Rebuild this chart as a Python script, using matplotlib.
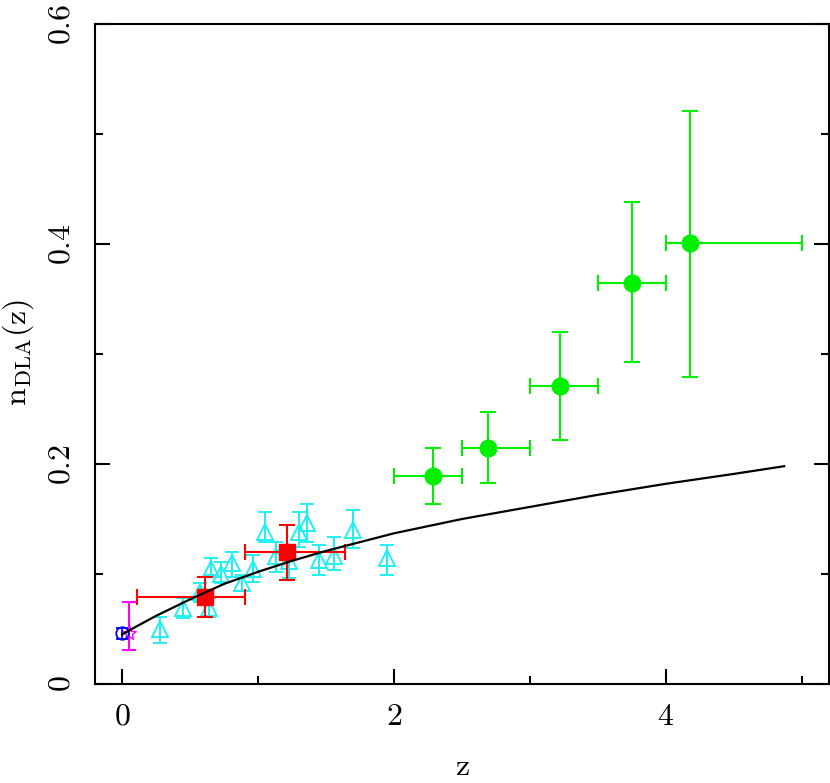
import numpy as np
import matplotlib
matplotlib.use("Agg")
import matplotlib.pyplot as plt

plt.rcParams['mathtext.fontset'] = 'cm'
plt.rcParams['font.family'] = 'serif'

# -------------------- DATA --------------------
# green: high-z DLA surveys
green_z = [2.29, 2.69, 3.22, 3.75, 4.18]
green_n = [0.189, 0.215, 0.271, 0.365, 0.401]
green_zlo = [2.0, 2.5, 3.0, 3.5, 4.0]
green_zhi = [2.5, 3.0, 3.5, 4.0, 5.0]
green_nlo = [0.164, 0.183, 0.222, 0.293, 0.279]
green_nhi = [0.215, 0.247, 0.320, 0.438, 0.521]

# red: low-z binned
red_z = [0.61, 1.21]
red_n = [0.079, 0.120]
red_zlo = [0.11, 0.90]
red_zhi = [0.90, 1.64]
red_nlo = [0.061, 0.095]
red_nhi = [0.097, 0.145]

# cyan: individual low-z estimates
cyan_z = [0.28, 0.45, 0.57, 0.64, 0.65, 0.73, 0.81, 0.88, 0.96,
          1.05, 1.13, 1.23, 1.30, 1.36, 1.45, 1.56, 1.70, 1.95]
cyan_n = [0.050, 0.069, 0.084, 0.069, 0.105, 0.100, 0.110, 0.092, 0.105,
          0.138, 0.116, 0.112, 0.138, 0.146, 0.113, 0.116, 0.140, 0.115]
cyan_nlo = [0.037, 0.060, 0.075, 0.061, 0.099, 0.092, 0.097, 0.085, 0.093,
            0.129, 0.102, 0.096, 0.125, 0.129, 0.099, 0.104, 0.124, 0.099]
cyan_nhi = [0.061, 0.078, 0.092, 0.078, 0.115, 0.111, 0.120, 0.099, 0.117,
            0.156, 0.129, 0.124, 0.156, 0.164, 0.126, 0.134, 0.158, 0.126]

# blue: z=0 point
blue_z = [0.0]
blue_n = [0.046]
blue_err = [0.005]

# magenta: z~0 point
mag_z = [0.05]
mag_n = [0.046]
mag_nlo = [0.031]
mag_nhi = [0.0745]

# black curve
line_z = [0.0, 0.1, 0.25, 0.4, 0.5, 0.75, 1.0, 1.25, 1.5, 1.75, 2.0, 2.5,
          3.0, 3.5, 4.0, 4.5, 4.87]
line_n = [0.045, 0.052, 0.062, 0.071, 0.077, 0.091, 0.102, 0.112, 0.121,
          0.129, 0.137, 0.150, 0.161, 0.172, 0.182, 0.191, 0.198]


def asym(v, lo, hi):
    v = np.array(v); return [v - np.array(lo), np.array(hi) - v]


# -------------------- PLOT --------------------
fig = plt.figure(figsize=(8.30, 7.83), dpi=100)
ax = fig.add_axes([95/830, 99/783, 734/830, 660/783])

ax.plot(line_z, line_n, color='black', lw=1.6, zorder=5)

ax.errorbar(cyan_z, cyan_n, yerr=asym(cyan_n, cyan_nlo, cyan_nhi), fmt='^',
            color='#22f0f0', mfc='none', mec='#22f0f0', ms=11, mew=1.4,
            elinewidth=1.5, capsize=5, capthick=1.5, zorder=3)

ax.errorbar(red_z, red_n, xerr=asym(red_z, red_zlo, red_zhi),
            yerr=asym(red_n, red_nlo, red_nhi), fmt='s', color='#ff0000',
            ms=11, elinewidth=1.5, capsize=6, capthick=1.5, zorder=4)

ax.errorbar(green_z, green_n, xerr=asym(green_z, green_zlo, green_zhi),
            yerr=asym(green_n, green_nlo, green_nhi), fmt='o', color='#00f000',
            ms=12, elinewidth=1.5, capsize=6, capthick=1.5, zorder=4)

ax.errorbar(mag_z, mag_n, yerr=asym(mag_n, mag_nlo, mag_nhi), fmt='none',
            ecolor='#ff00ff', elinewidth=1.5, capsize=5, capthick=1.5, zorder=4)
ax.plot(mag_z, mag_n, marker='*', ls='none', mfc='none', mec='#ff00ff',
        ms=11, mew=1.0, zorder=4)

ax.errorbar(blue_z, blue_n, yerr=blue_err, fmt='o', color='#0000ff',
            mfc='none', ms=9, mew=1.3, elinewidth=1.3, capsize=4,
            capthick=1.3, zorder=4)

# -------------------- AXES --------------------
ax.set_xlim(-0.2, 5.2)
ax.set_ylim(0, 0.6)
ax.set_xticks([0, 2, 4])
ax.set_xticklabels(['$0$', '$2$', '$4$'])
ax.set_xticks([1, 3, 5], minor=True)
ax.set_yticks([0, 0.2, 0.4, 0.6])
ax.set_yticklabels(['$0$', '$0.2$', '$0.4$', '$0.6$'], rotation=90, va='center')
ax.set_yticks([0.1, 0.3, 0.5], minor=True)

ax.tick_params(axis='both', which='both', direction='in', top=False,
               right=True, width=1.5, labelsize=23)
ax.tick_params(axis='both', which='major', length=11)
ax.tick_params(axis='both', which='minor', length=6)
ax.tick_params(axis='x', which='major', pad=12)
ax.tick_params(axis='y', which='major', pad=13)
for s in ax.spines.values():
    s.set_linewidth(1.5)

ax.set_xlabel(r'$\mathrm{z}$', fontsize=23)
ax.xaxis.set_label_coords(0.5, -0.102)
ax.set_ylabel(r'$\mathrm{n_{DLA}(z)}$', fontsize=23)
ax.yaxis.set_label_coords(-0.08, 0.503)

fig.savefig("out.png", dpi=100)
